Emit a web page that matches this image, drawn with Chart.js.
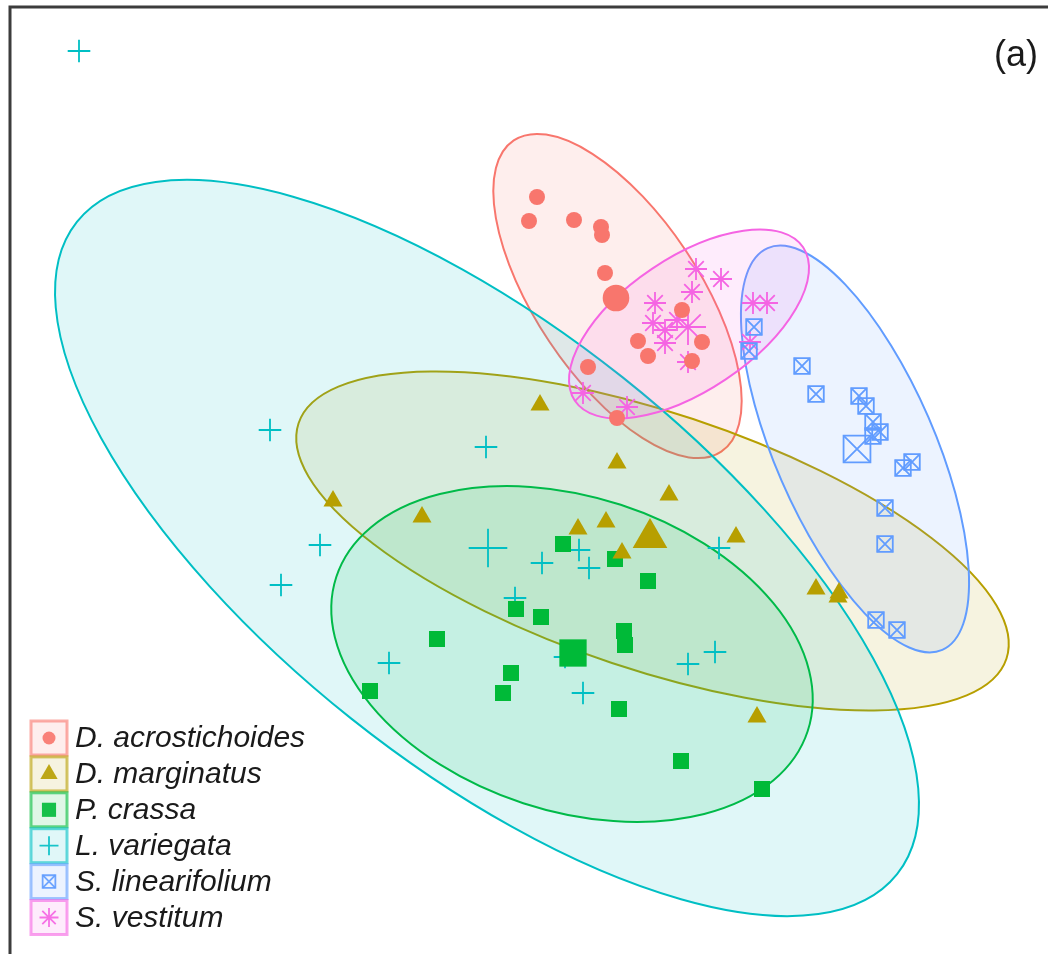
<!DOCTYPE html>
<html lang="en">
<head>
<meta charset="UTF-8">
<title>Ordination (a)</title>
<script src="https://cdn.jsdelivr.net/npm/chart.js"></script>
<style>
  body { margin: 0; background: #fff; }
  #wrap { position: relative; width: 1048px; height: 954px; }
</style>
</head>
<body>
<div id="wrap"><canvas id="ordChart"></canvas></div>
<script>
// species in legend order
const species = ['D. acrostichoides', 'D. marginatus', 'P. crassa', 'L. variegata', 'S. linearifolium', 'S. vestitum'];

// site scores (axis units = plot units, y grows downward)
const dacX = [537, 529, 574, 601, 602, 605, 682, 638, 648, 702, 692, 588, 617];
const dacY = [197, 221, 220, 227, 235, 273, 310, 341, 356, 342, 361, 367, 418];
const dmaX = [540, 617, 669, 333, 422, 578, 606, 622, 736, 757, 816, 839, 838];
const dmaY = [405, 463, 495, 501, 517, 529, 522, 553, 537, 717, 589, 593, 597];
const pcrX = [563, 615, 648, 516, 541, 437, 624, 625, 511, 370, 503, 619, 681, 762];
const pcrY = [544, 559, 581, 609, 617, 639, 631, 645, 673, 691, 693, 709, 761, 789];
const lvaX = [79, 270, 486, 320, 281, 542, 579, 589, 515, 565, 719, 389, 688, 715, 583];
const lvaY = [51, 430, 447, 545, 585, 563, 550, 568, 598, 657, 548, 663, 664, 652, 693];
const sliX = [754, 749, 802, 816, 859, 866, 873, 880, 873, 903, 912, 885, 885, 876, 897];
const sliY = [327, 351, 366, 394, 396, 406, 422, 432, 436, 468, 462, 508, 544, 620, 630];
const sveX = [696, 721, 692, 655, 653, 665, 677, 665, 688, 753, 767, 750, 583, 627];
const sveY = [269, 279, 292, 303, 323, 330, 320, 343, 362, 303, 303, 342, 393, 407];

// group centroids (big markers)
const centroidX = [616, 650, 573, 488, 857, 688];
const centroidY = [298, 538, 653, 548, 449, 327];

// confidence ellipses: centre, semi-axes, tilt (degrees)
const ellCX = [617.5, 652.5, 572, 487, 855, 689];
const ellCY = [296, 541, 654, 548, 449, 324];
const ellA = [187, 373, 248, 524, 219, 137.5];
const ellB = [82, 128.5, 157, 218, 80, 66.5];
const ellAngle = [56.3, 18.4, 18.1, 38.5, 66.5, -33.9];

const xs = [dacX, dmaX, pcrX, lvaX, sliX, sveX];
const ys = [dacY, dmaY, pcrY, lvaY, sliY, sveY];

const colors = ['#F8766D', '#B79F00', '#00BA38', '#00BFC4', '#619CFF', '#F564E3'];
const markers = ['circle', 'triangle', 'rect', 'cross', 'rect', 'star'];
const filled = [true, true, true, false, false, false];
const small = [8, 11, 11.3, 11.3, 11, 11];
const big = [13.3, 20, 19.3, 19.3, 19, 18];

function rgba(hex, a) {
    const n = parseInt(hex.slice(1), 16);
    return `rgba(${(n >> 16) & 255}, ${(n >> 8) & 255}, ${n & 255}, ${a})`;
}

function pts(xArr, yArr) {
    return xArr.map((x, i) => ({ x: x, y: yArr[i] }));
}

function makeSet(data, i, r, style) {
    return {
        label: species[i],
        data: data,
        pointStyle: style || markers[i],
        pointRadius: r,
        pointHoverRadius: r,
        backgroundColor: filled[i] ? colors[i] : 'transparent',
        borderColor: colors[i],
        borderWidth: filled[i] ? 0 : 1.8
    };
}

const datasets = [];
species.forEach((name, i) => {
    const d = pts(xs[i], ys[i]);
    const c = [{ x: centroidX[i], y: centroidY[i] }];
    datasets.push(makeSet(d, i, small[i]));
    datasets.push(makeSet(c, i, big[i]));
    if (i === 4) {
        // boxed cross: overlay an X on the squares
        datasets.push(makeSet(d, i, small[i], 'crossRot'));
        datasets.push(makeSet(c, i, big[i], 'crossRot'));
    }
});

const ellipsePlugin = {
    id: 'ellipses',
    beforeDatasetsDraw(chart) {
        const ctx = chart.ctx;
        const sx = chart.scales.x, sy = chart.scales.y;
        ctx.save();
        for (let i = 0; i < species.length; i++) {
            const cx = sx.getPixelForValue(ellCX[i]);
            const cy = sy.getPixelForValue(ellCY[i]);
            const a = Math.abs(sx.getPixelForValue(ellCX[i] + ellA[i]) - cx);
            const b = Math.abs(sx.getPixelForValue(ellCX[i] + ellB[i]) - cx);
            ctx.beginPath();
            ctx.ellipse(cx, cy, a, b, ellAngle[i] * Math.PI / 180, 0, 2 * Math.PI);
            ctx.fillStyle = rgba(colors[i], 0.12);
            ctx.fill();
            ctx.lineWidth = 2;
            ctx.strokeStyle = colors[i];
            ctx.stroke();
        }
        ctx.restore();
    }
};

const decorPlugin = {
    id: 'decor',
    afterDraw(chart) {
        const ctx = chart.ctx;
        const draw = Chart.helpers.drawPoint;
        ctx.save();

        // panel frame (right and bottom edges fall outside the picture)
        ctx.strokeStyle = '#3c3c3c';
        ctx.lineWidth = 3;
        ctx.beginPath();
        ctx.moveTo(10, 954);
        ctx.lineTo(10, 7);
        ctx.lineTo(1048, 7);
        ctx.stroke();

        // panel tag
        ctx.fillStyle = '#1a1a1a';
        ctx.font = '36px "Liberation Sans", Arial, sans-serif';
        ctx.textAlign = 'right';
        ctx.textBaseline = 'alphabetic';
        ctx.fillText('(a)', 1038, 66);

        // legend
        const keyW = 36, keyH = 34, step = 35.9;
        const left = 31, top0 = 721;
        const keyR = [6.5, 10, 10, 9.5, 9, 9.5];
        ctx.font = 'italic 30px "Liberation Sans", Arial, sans-serif';
        ctx.textAlign = 'left';
        ctx.textBaseline = 'middle';
        species.forEach((name, i) => {
            const y = top0 + i * step;
            ctx.fillStyle = rgba(colors[i], 0.12);
            ctx.fillRect(left, y, keyW, keyH);
            ctx.strokeStyle = rgba(colors[i], 0.6);
            ctx.lineWidth = 3;
            ctx.strokeRect(left, y, keyW, keyH);

            const cx = left + keyW / 2, cy = y + keyH / 2;
            ctx.fillStyle = rgba(colors[i], 0.9);
            ctx.strokeStyle = rgba(colors[i], 0.9);
            ctx.lineWidth = 1.8;
            const opts = { pointStyle: markers[i], radius: keyR[i], rotation: 0, borderWidth: filled[i] ? 0 : 1.8 };
            if (!filled[i]) ctx.fillStyle = 'transparent';
            draw(ctx, opts, cx, cy);
            if (i === 4) draw(ctx, Object.assign({}, opts, { pointStyle: 'crossRot' }), cx, cy);

            ctx.fillStyle = '#1a1a1a';
            ctx.fillText(name, 75, cy + 1);
        });
        ctx.restore();
    }
};

new Chart(document.getElementById('ordChart'), {
    type: 'scatter',
    data: { datasets: datasets },
    options: {
        responsive: true,
        maintainAspectRatio: false,
        animation: false,
        events: [],
        layout: { padding: 0, autoPadding: false },
        plugins: { legend: { display: false }, tooltip: { enabled: false } },
        scales: {
            x: { type: 'linear', min: 0, max: 1048, display: false },
            y: { type: 'linear', min: 0, max: 954, reverse: true, display: false }
        }
    },
    plugins: [ellipsePlugin, decorPlugin]
});
</script>
</body>
</html>
